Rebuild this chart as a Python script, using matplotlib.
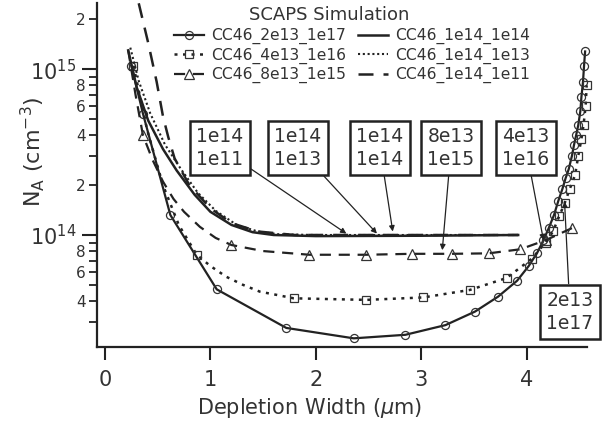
import matplotlib
matplotlib.use("Agg")
import matplotlib.pyplot as plt
from matplotlib.ticker import FixedLocator

# ---------------- data ----------------
circ_x = [0.25, 0.36, 0.62, 1.06, 1.72, 2.36, 2.85, 3.23, 3.51, 3.73, 3.91, 4.02, 4.10, 4.16,
          4.21, 4.26, 4.30, 4.34, 4.37, 4.40, 4.43, 4.45, 4.47, 4.49, 4.51, 4.52, 4.535, 4.545, 4.555]
circ_y = [1.05e15, 5.4e14, 1.32e14, 4.7e13, 2.75e13, 2.38e13, 2.5e13, 2.86e13, 3.45e13, 4.25e13,
          5.3e13, 6.5e13, 7.8e13, 9.3e13, 1.1e14, 1.32e14, 1.6e14, 1.9e14, 2.2e14, 2.5e14, 3.0e14,
          3.5e14, 4.0e14, 4.6e14, 5.6e14, 6.8e14, 8.4e14, 1.05e15, 1.28e15]

sq_x = [0.27, 0.40, 0.55, 0.70, 0.87, 1.00, 1.15, 1.31, 1.47, 1.63, 1.79, 2.48, 3.02, 3.46, 3.81,
        4.05, 4.18, 4.25, 4.31, 4.36, 4.41, 4.46, 4.49, 4.52, 4.54, 4.56, 4.57]
sq_y = [1.05e15, 4.3e14, 2.0e14, 1.15e14, 7.6e13, 6.5e13, 5.6e13, 5.0e13, 4.55e13, 4.35e13, 4.15e13,
        4.06e13, 4.2e13, 4.66e13, 5.5e13, 7.2e13, 9.0e13, 1.05e14, 1.3e14, 1.55e14, 1.9e14, 2.3e14,
        3.0e14, 3.8e14, 4.6e14, 6.0e14, 8.0e14]
sq_marks = [0, 4, 10, 11, 12, 13, 14, 15, 16, 17, 18, 19, 20, 21, 22, 23, 24, 25, 26]

tri_x = [0.22, 0.29, 0.36, 0.45, 0.55, 0.65, 0.75, 0.90, 1.05, 1.20, 1.50, 1.94, 2.48, 2.91,
         3.29, 3.64, 3.94, 4.18, 4.43]
tri_y = [1.3e15, 7.0e14, 4.0e14, 2.85e14, 2.1e14, 1.65e14, 1.38e14, 1.12e14, 9.6e13, 8.7e13,
         8.0e13, 7.6e13, 7.6e13, 7.7e13, 7.7e13, 7.75e13, 8.2e13, 9.3e13, 1.1e14]
tri_marks = [2, 9, 11, 12, 13, 14, 15, 16, 17, 18]

s14_x = [0.22, 0.30, 0.41, 0.55, 0.68, 0.85, 1.00, 1.20, 1.40, 1.60, 2.00, 3.00, 3.92]
s14_y = [1.3e15, 7.8e14, 4.9e14, 3.3e14, 2.45e14, 1.75e14, 1.38e14, 1.15e14, 1.04e14, 1.0e14,
         0.985e14, 0.99e14, 1.0e14]

d13_x = [0.24, 0.32, 0.43, 0.57, 0.72, 0.88, 1.05, 1.25, 1.45, 1.65, 2.00, 3.00, 3.92]
d13_y = [1.35e15, 8.5e14, 5.4e14, 3.5e14, 2.5e14, 1.8e14, 1.4e14, 1.15e14, 1.05e14, 1.01e14,
         1.0e14, 1.0e14, 1.0e14]

ld_x = [0.32, 0.41, 0.49, 0.55, 0.60, 0.66, 0.80, 1.00, 1.20, 1.45, 1.80, 3.00, 3.92]
ld_y = [2.5e15, 1.44e15, 8.4e14, 5.2e14, 3.9e14, 2.9e14, 2.0e14, 1.45e14, 1.18e14, 1.05e14,
        1.0e14, 1.0e14, 1.0e14]

labels = ["CC46_2e13_1e17", "CC46_4e13_1e16", "CC46_8e13_1e15",
          "CC46_1e14_1e14", "CC46_1e14_1e13", "CC46_1e14_1e11"]
legend_title = "SCAPS Simulation"

note_texts = ["1e14\n1e11", "1e14\n1e13", "1e14\n1e14", "8e13\n1e15", "4e13\n1e16", "2e13\n1e17"]
note_tip_x = [2.29, 2.58, 2.73, 3.20, 4.16, 4.36]
note_tip_y = [1.02e14, 1.02e14, 1.05e14, 8.1e13, 9.3e13, 1.59e14]
note_box_x = [1.091, 1.831, 2.609, 3.283, 3.994, 4.412]
note_box_y = [3.35e14, 3.35e14, 3.35e14, 3.35e14, 3.35e14, 3.43e13]

x_ticks = [0, 1, 2, 3, 4]
y_major = [1e14, 1e15]
y_major_labels = [r"$10^{14}$", r"$10^{15}$"]
y_minor = [3e13, 4e13, 5e13, 6e13, 7e13, 8e13, 9e13,
           2e14, 3e14, 4e14, 5e14, 6e14, 7e14, 8e14, 9e14, 2e15]
y_minor_labels = ["", "4", "", "6", "", "8", "",
                  "2", "", "4", "", "6", "", "8", "", "2"]

# ---------------- figure ----------------
plt.rcParams['font.family'] = ['DejaVu Sans']
plt.rcParams['mathtext.fontset'] = 'dejavusans'
ink = '#222222'
txt = '#333333'

fig = plt.figure(figsize=(6.05, 4.23), dpi=100)
ax = fig.add_axes([97/605, 76/423, 490/605, 344/423])
ax.set_yscale('log')
ax.set_xlim(-0.076, 4.573)
ax.set_ylim(2.11e13, 2.51e15)

ax.plot(circ_x, circ_y, '-', color=ink, lw=1.6, marker='o', ms=5.8, mfc='none', mec='#333333',
        mew=0.9, clip_on=False, label=labels[0])
ax.plot(sq_x, sq_y, color=ink, lw=1.8, linestyle=(0, (1.2, 2.2)), marker='s', ms=5.5, mfc='none',
        mec='#333333', mew=0.9, markevery=sq_marks, clip_on=False, label=labels[1])
ax.plot(tri_x, tri_y, color=ink, lw=1.6, linestyle=(0, (5, 3.5)), marker='^', ms=6.5, mfc='none',
        mec='#333333', mew=0.9, markevery=tri_marks, clip_on=False, label=labels[2])
ax.plot(s14_x, s14_y, '-', color=ink, lw=1.8, clip_on=False, label=labels[3])
ax.plot(d13_x, d13_y, color=ink, lw=1.5, linestyle=(0, (1, 1.3)), clip_on=False, label=labels[4])
ax.plot(ld_x, ld_y, color=ink, lw=1.8, linestyle=(0, (6, 4)), clip_on=False, label=labels[5])

# axes styling (Igor-like)
for s in ['top', 'right']:
    ax.spines[s].set_visible(False)
for s in ['left', 'bottom']:
    ax.spines[s].set_linewidth(1.6)
    ax.spines[s].set_color(ink)

ax.set_xticks(x_ticks)
ax.set_xticklabels([str(t) for t in x_ticks])
ax.tick_params(axis='x', which='major', direction='out', length=9.5, width=1.5, pad=7,
               labelsize=15, colors=ink, labelcolor=txt)

ax.yaxis.set_major_locator(FixedLocator(y_major))
ax.set_yticklabels(y_major_labels)
ax.set_yticks(y_minor, minor=True)
ax.set_yticklabels(y_minor_labels, minor=True)
ax.tick_params(axis='y', which='major', direction='out', length=11, width=1.5, pad=4,
               labelsize=15, colors=ink, labelcolor=txt)
ax.tick_params(axis='y', which='minor', direction='out', length=6, width=1.3, pad=2,
               labelsize=11, colors=ink, labelcolor=txt)

fig.text(310/605, 1 - 408/423, r"Depletion Width ($\mu$m)", ha='center', va='center',
         fontsize=15, color=txt)
fig.text(33/605, 1 - 152/423, r"N$_\mathrm{A}$ (cm$^{-3}$)", ha='center', va='center',
         rotation=90, fontsize=16, color=txt)

fig.text(329/605, 1 - 15/423, legend_title, ha='center', va='center', fontsize=13, color=txt)
leg = ax.legend(ncol=2, loc='upper left',
                bbox_to_anchor=(174/605, 1 - 28/423), bbox_transform=fig.transFigure,
                frameon=False, fontsize=11.2, handlelength=1.9,
                handletextpad=0.5, columnspacing=0.75, labelspacing=0.22, borderpad=0,
                borderaxespad=0, numpoints=1)
for t in leg.get_texts():
    t.set_color(txt)

for t, tx, ty, bx, by in zip(note_texts, note_tip_x, note_tip_y, note_box_x, note_box_y):
    ax.annotate(t, xy=(tx, ty), xytext=(bx, by), textcoords='data', ha='center', va='center',
                fontsize=13.5, color=txt, linespacing=1.25, annotation_clip=False,
                bbox=dict(boxstyle='square,pad=0.35', fc='white', ec=ink, lw=1.8),
                arrowprops=dict(arrowstyle='-|>', color=ink, lw=0.9, mutation_scale=8,
                                shrinkA=0, shrinkB=0))

fig.savefig("out.png", dpi=100)
